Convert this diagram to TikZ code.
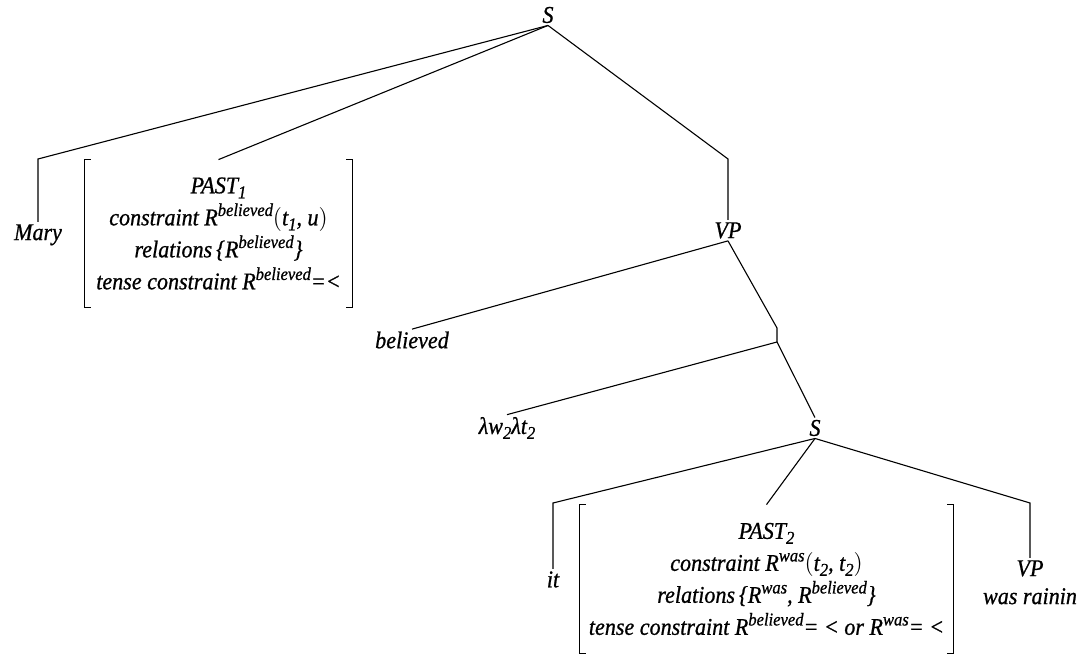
\documentclass[tikz,border=0pt]{standalone}
\usepackage{fontspec}
\setmainfont{Liberation Serif}[FakeStretch=0.92,FakeBold=0.8]
\usepackage{graphicx}
\usepackage{tikz}
\usetikzlibrary{positioning,calc}

\tikzset{
  cat/.style={font=\itshape\fontsize{12}{14}\selectfont, inner sep=1pt},
  feat/.style={font=\itshape\fontsize{12}{16}\selectfont, align=center, inner sep=0pt},
  branch/.style={line width=0.55pt, black}
}
\newcommand{\supr}[1]{\raisebox{0.85ex}{\fontsize{9}{9}\selectfont #1}}
\newcommand{\subr}[1]{\raisebox{-0.45ex}{\fontsize{9}{9}\selectfont #1}}
\newcommand{\featbrackets}[1]{%
  \draw[branch] ([xshift=3pt]#1.north west) -- (#1.north west) -- (#1.south west) -- ([xshift=3pt]#1.south west);
  \draw[branch] ([xshift=-3pt]#1.north east) -- (#1.north east) -- (#1.south east) -- ([xshift=-3pt]#1.south east);}

\begin{document}
\begin{tikzpicture}[x=0.5pt,y=0.5pt]
   \useasboundingbox (0,0) rectangle (1088,-656);

   \node[cat] (s1) at (548,-15) {S};
   \node[cat, anchor=north] (mary) at (38,-222) {Mary};
   \node[feat, minimum width=133.5pt, minimum height=73.5pt] (past1) at (218.5,-233.5)
      {PAST\subr{1}\\
       constraint R\supr{believed}$\bigl($t\subr{1}, u$\bigr)$\\
       relations\,\{R\supr{believed}\}\\
       tense constraint R\supr{believed}=<};
   \node[cat, anchor=north] (vp1) at (728,-220) {VP};
   \node[cat] (believed) at (412,-340) {believed};
   \node[cat] (lam) at (507,-428) {λw\subr{2}λt\subr{2}};
   \node[cat] (s2) at (815,-428) {S};
   \node[cat, anchor=north] (it) at (553,-569) {it};
   \node[feat, minimum width=186.5pt, minimum height=74pt] (past2) at (766.5,-579)
      {PAST\subr{2}\\
       constraint R\supr{was}$\bigl($t\subr{2}, t\subr{2}$\bigr)$\\
       relations\,\{R\supr{was}, R\supr{believed}\}\\
       tense constraint R\supr{believed}= < or R\supr{was}= <};
   \node[cat, align=center, anchor=north] (vp2) at (1030,-558) {VP\\was rainin};

   \coordinate (m1) at (38,-159);
   \coordinate (v1) at (728,-159);
   \coordinate (b1) at (777,-328);
   \coordinate (b2) at (777,-342);
   \coordinate (i1) at (553,-503);
   \coordinate (w1) at (1030,-503);

   \draw[branch] (s1.south) -- (m1) -- (mary.north);
   \draw[branch] (s1.south) -- (past1.north);
   \draw[branch] (s1.south) -- (v1) -- (vp1.north);
   \draw[branch] (vp1.south) -- (believed.north);
   \draw[branch] (vp1.south) -- (b1) -- (b2);
   \draw[branch] (b2) -- (lam.north);
   \draw[branch] (b2) -- (s2.north);
   \draw[branch] (s2.south) -- (i1) -- (it.north);
   \draw[branch] (s2.south) -- (past2.north);
   \draw[branch] (s2.south) -- (w1) -- (vp2.north);
   \featbrackets{past1}
   \featbrackets{past2}
\end{tikzpicture}
\end{document}
